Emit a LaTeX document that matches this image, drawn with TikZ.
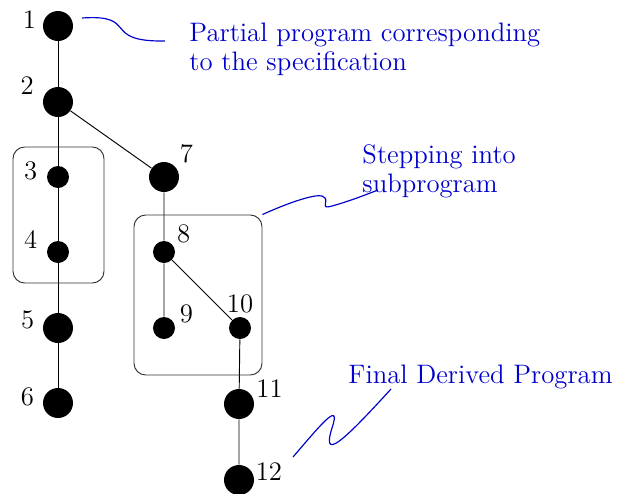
\documentclass[tikz,border=0pt]{standalone}
\usepackage{xcolor}
\usepackage{tikz}
\usetikzlibrary{positioning,calc}

\begin{document}
\begin{tikzpicture}[x=0.015cm,y=0.015cm,
    every node/.style={font=\fontsize{11.4pt}{12.4pt}\selectfont},
    big/.style={circle,fill=black,inner sep=0pt,minimum size=0.45cm},
    small/.style={circle,fill=black,inner sep=0pt,minimum size=0.33cm},
    num/.style={anchor=center,label distance=#1},
    note/.style={text=blue!80!black,align=left,inner sep=0pt,anchor=north west},
    wiggle/.style={blue!80!black,line width=0.5pt}]
  \useasboundingbox (0,0) rectangle (629,-494);
  % main line
  \node[big]   (n1) at (58,-26)  [label={[num=5.9pt]167:1}] {};
  \node[big]   (n2) at (58,-102) [label={[num=8.3pt]152:2}] {};
  \node[small] (n3) at (58,-177) [label={[num=7.1pt]167:3}] {};
  \node[small] (n4) at (58,-252) [label={[num=7.9pt]156:4}] {};
  \node[big]   (n5) at (58,-328) [label={[num=6.8pt]165:5}] {};
  \node[big]   (n6) at (58,-403) [label={[num=6.7pt]168:6}] {};
  % branch
  \node[big]   (n7)  at (164,-177) [label={[num=7.2pt]46:7}] {};
  \node[small] (n8)  at (164,-252) [label={[num=6.6pt]43:8}] {};
  \node[small] (n9)  at (164,-328) [label={[num=6.5pt]33:9}] {};
  \node[small] (n10) at (240,-328) [label={[num=5.5pt]90:10}] {};
  \node[big]   (n11) at (239,-404) [label={[num=7.9pt]26:11}] {};
  \node[big]   (n12) at (239,-480) [label={[num=6.6pt]15:12}] {};
  \draw (n1)--(n2)--(n3)--(n4)--(n5)--(n6);
  \draw (n2)--(n7)--(n8)--(n9);
  \draw (n8)--(n10)--(n11)--(n12);
  % boxes
  \node[draw=black!80,rounded corners=5pt,minimum width=91*0.015cm,minimum height=136*0.015cm]
    (box1) at (58.5,-215) {};
  \node[draw=black!80,rounded corners=5pt,minimum width=128*0.015cm,minimum height=160*0.015cm]
    (box2) at (198,-295) {};
  % notes
  \node[note] (spec) at (189,-22) {Partial program corresponding\\to the specification};
  \node[note] (step) at (362,-144) {Stepping into\\subprogram};
  \node[note] (final) at (348,-364) {Final Derived Program};
  \coordinate (c1) at (82,-18);
  \coordinate (c2) at (165,-41);
  \coordinate (c3) at (378,-190);
  \coordinate (c4) at (293,-457);
  \coordinate (c5) at (391,-389);
  \draw[wiggle] (c1) .. controls (140,-14) and (100,-42) .. (c2);
  \draw[wiggle] (box2.north east) .. controls (290,-202) and (315,-194) .. (322,-196)
    .. controls (332,-200) and (318,-210) .. (332,-206)
    .. controls (350,-201) and (365,-195) .. (c3);
  \draw[wiggle] (c4) .. controls (318,-428) and (342,-398) .. (332,-428)
    .. controls (322,-460) and (340,-445) .. (c5);
\end{tikzpicture}
\end{document}
